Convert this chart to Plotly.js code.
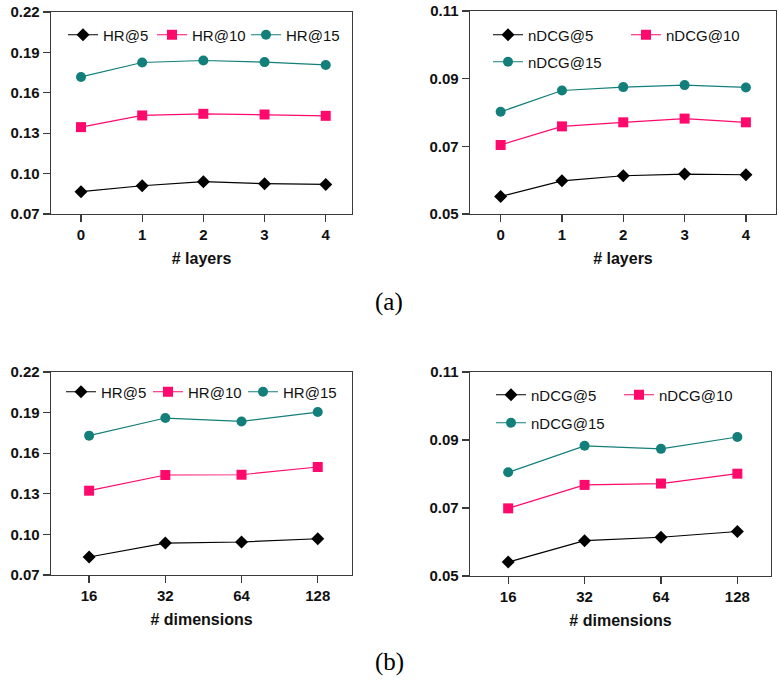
<!DOCTYPE html>
<html>
<head>
<meta charset="utf-8">
<script src="https://cdn.plot.ly/plotly-3.0.1.min.js"></script>
<style>html,body{margin:0;padding:0;background:#fff;}#chart{width:779px;height:682px;}</style>
</head>
<body>
<div id="chart"></div>
<script>
// ---- data ----
const layers = [0, 1, 2, 3, 4];
const hr5_layers = [0.0866, 0.0910, 0.0940, 0.0925, 0.0920];
const hr10_layers = [0.1345, 0.1432, 0.1444, 0.1439, 0.1429];
const hr15_layers = [0.1718, 0.1825, 0.1840, 0.1828, 0.1807];
const ndcg5_layers = [0.0552, 0.0598, 0.0613, 0.0618, 0.0616];
const ndcg10_layers = [0.0704, 0.0759, 0.0771, 0.0782, 0.0771];
const ndcg15_layers = [0.0802, 0.0865, 0.0875, 0.0881, 0.0874];

const dims = ['16', '32', '64', '128'];
const hr5_dims = [0.0833, 0.0936, 0.0944, 0.0968];
const hr10_dims = [0.1323, 0.1439, 0.1441, 0.1498];
const hr15_dims = [0.1730, 0.1860, 0.1835, 0.1904];
const ndcg5_dims = [0.0541, 0.0604, 0.0614, 0.0631];
const ndcg10_dims = [0.0699, 0.0768, 0.0772, 0.0801];
const ndcg15_dims = [0.0805, 0.0883, 0.0874, 0.0909];

const hrTicks = [0.07, 0.10, 0.13, 0.16, 0.19, 0.22];
const ndcgTicks = [0.05, 0.07, 0.09, 0.11];

// ---- styles ----
const BLACK = '#000000', PINK = '#ff0a6c', TEAL = '#137f7b';
const styles = [
  {color: BLACK, symbol: 'diamond', size: 10},
  {color: PINK, symbol: 'square', size: 10},
  {color: TEAL, symbol: 'circle', size: 10}
];
function tr(x, y, name, k, xa, ya, leg) {
  const s = styles[k];
  return {
    x: x, y: y, name: name, type: 'scatter', mode: 'lines+markers',
    xaxis: xa, yaxis: ya, legend: leg,
    line: {color: s.color, width: 1.2},
    marker: {color: s.color, symbol: s.symbol, size: s.size, line: {width: 0}}
  };
}
const data = [
  tr(layers, hr5_layers, 'HR@5', 0, 'x', 'y', 'legend'),
  tr(layers, hr10_layers, 'HR@10', 1, 'x', 'y', 'legend2'),
  tr(layers, hr15_layers, 'HR@15', 2, 'x', 'y', 'legend3'),
  tr(layers, ndcg5_layers, 'nDCG@5', 0, 'x2', 'y2', 'legend4'),
  tr(layers, ndcg10_layers, 'nDCG@10', 1, 'x2', 'y2', 'legend5'),
  tr(layers, ndcg15_layers, 'nDCG@15', 2, 'x2', 'y2', 'legend6'),
  tr(dims, hr5_dims, 'HR@5', 0, 'x3', 'y3', 'legend7'),
  tr(dims, hr10_dims, 'HR@10', 1, 'x3', 'y3', 'legend8'),
  tr(dims, hr15_dims, 'HR@15', 2, 'x3', 'y3', 'legend9'),
  tr(dims, ndcg5_dims, 'nDCG@5', 0, 'x4', 'y4', 'legend10'),
  tr(dims, ndcg10_dims, 'nDCG@10', 1, 'x4', 'y4', 'legend11'),
  tr(dims, ndcg15_dims, 'nDCG@15', 2, 'x4', 'y4', 'legend12')
];

const FONT = 'Liberation Sans, Arial, sans-serif';
const AXCOL = '#3a3a3a';
function xax(domain, anchor, range, title, type, tickvals) {
  const o = {
    domain: domain, anchor: anchor, range: range, type: type,
    showgrid: false, zeroline: false, showline: true, mirror: true,
    linecolor: AXCOL, linewidth: 1.3, ticks: 'outside', ticklen: 7, tickwidth: 1.3, tickcolor: AXCOL,
    tickfont: {family: FONT, size: 15, color: '#111', weight: 'bold'},
    title: {text: title, font: {family: FONT, size: 16, color: '#111', weight: 'bold'}, standoff: 10},
    automargin: false
  };
  if (tickvals) { o.tickmode = 'array'; o.tickvals = tickvals; }
  return o;
}
function yax(domain, anchor, range, tickvals) {
  return {
    domain: domain, anchor: anchor, range: range,
    showgrid: false, zeroline: false, showline: true, mirror: true,
    linecolor: AXCOL, linewidth: 1.3, ticks: 'outside', ticklen: 7, tickwidth: 1.3, tickcolor: AXCOL,
    tickmode: 'array', tickvals: tickvals, tickformat: '.2f',
    tickfont: {family: FONT, size: 15, color: '#111', weight: 'bold'},
    automargin: false
  };
}
// legend placed by pixel centre of its marker
function leg(mx, my) {
  return {
    x: (mx - 19) / 779, y: 1 - my / 682, xanchor: 'left', yanchor: 'middle', orientation: 'h',
    bgcolor: 'rgba(0,0,0,0)', borderwidth: 0,
    font: {family: FONT, size: 15, color: '#111'},
    itemclick: false, itemdoubleclick: false
  };
}

const layout = {
  width: 779, height: 682,
  margin: {l: 0, r: 0, t: 0, b: 0},
  paper_bgcolor: '#ffffff', plot_bgcolor: '#ffffff',
  showlegend: true,
  xaxis: xax([0.0655, 0.4519], 'y', [-0.49, 4.43], '# layers', 'linear', layers),
  yaxis: yax([0.6862, 0.9824], 'x', [0.07, 0.22], hrTicks),
  xaxis2: xax([0.6033, 0.9961], 'y2', [-0.5, 4.49], '# layers', 'linear', layers),
  yaxis2: yax([0.6862, 0.9839], 'x2', [0.05, 0.11], ndcgTicks),
  xaxis3: xax([0.0655, 0.4519], 'y3', [-0.5, 3.45], '# dimensions', 'category'),
  yaxis3: yax([0.1569, 0.4545], 'x3', [0.07, 0.22], hrTicks),
  xaxis4: xax([0.6033, 0.9897], 'y4', [-0.5, 3.44], '# dimensions', 'category'),
  yaxis4: yax([0.1554, 0.4545], 'x4', [0.05, 0.11], ndcgTicks),
  legend: leg(82, 35),
  legend2: leg(171, 35),
  legend3: leg(265, 35),
  legend4: leg(507, 35),
  legend5: leg(645, 35),
  legend6: leg(507, 62),
  legend7: leg(80, 392),
  legend8: leg(167, 392),
  legend9: leg(262, 392),
  legend10: leg(510, 395),
  legend11: leg(638, 395),
  legend12: leg(510, 423),
  annotations: [
    {text: '(a)', xref: 'paper', yref: 'paper', x: 0.4995, y: 1 - 302/682, showarrow: false,
     xanchor: 'center', yanchor: 'middle', font: {family: 'Liberation Serif, DejaVu Serif, serif', size: 25, color: '#000'}},
    {text: '(b)', xref: 'paper', yref: 'paper', x: 0.4995, y: 1 - 662/682, showarrow: false,
     xanchor: 'center', yanchor: 'middle', font: {family: 'Liberation Serif, DejaVu Serif, serif', size: 25, color: '#000'}}
  ]
};

Plotly.newPlot('chart', data, layout, {displayModeBar: false, staticPlot: true});
</script>
</body>
</html>
